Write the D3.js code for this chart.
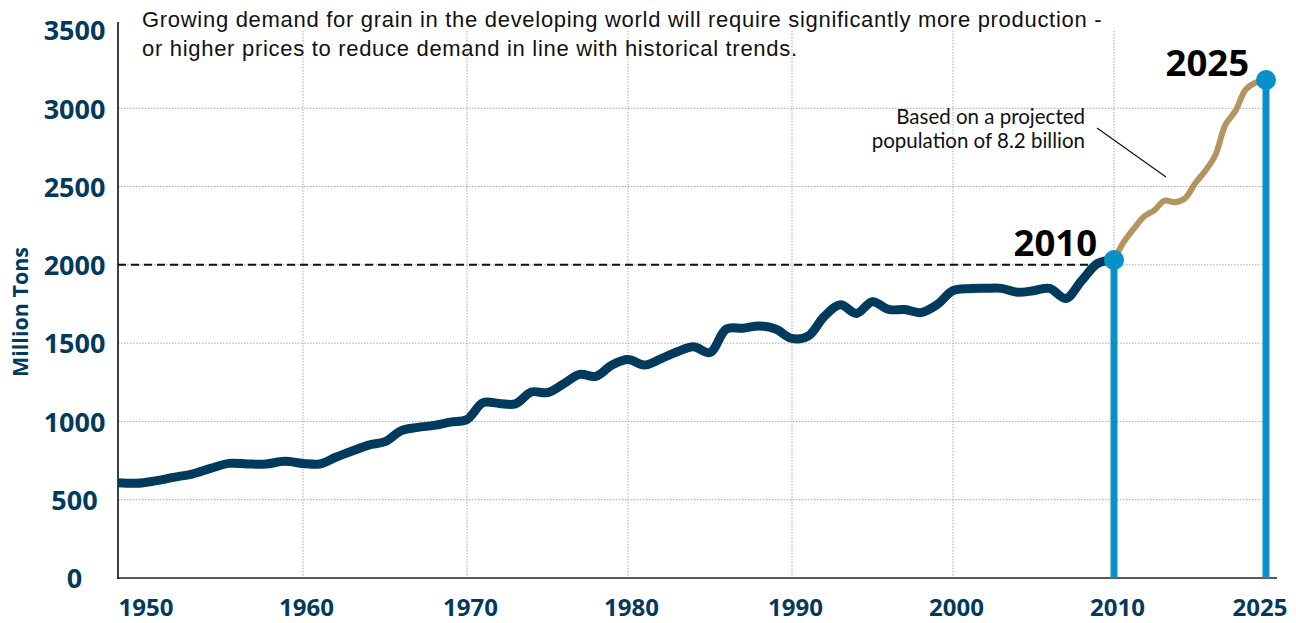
<!DOCTYPE html>
<html>
<head>
<meta charset="utf-8">
<title>World Grain Demand</title>
<script src="https://d3js.org/d3.v7.min.js"></script>
<style>
	body{
		margin:0;
		background-color:#fff;
	}
	.tick text{
		font-family:'Open Sans', 'Noto Sans', sans-serif;
		font-weight:700;
		fill:#033a5c;
	}
</style>
</head>
<body>
<div class="screen"></div>
<script>

//DATA

var histYears = [1950,1951,1952,1953,1954,1955,1956,1957,1958,1959,
	1960,1961,1962,1963,1964,1965,1966,1967,1968,1969,
	1970,1971,1972,1973,1974,1975,1976,1977,1978,1979,
	1980,1981,1982,1983,1984,1985,1986,1987,1988,1989,
	1990,1991,1992,1993,1994,1995,1996,1997,1998,1999,
	2000,2001,2002,2003,2004,2005,2006,2007,2008,2009,2010];
var histTons = [609,605,620,643,664,700,732,728,728,745,
	732,728,771,811,849,871,941,962,975,996,
	1013,1120,1115,1112,1188,1184,1240,1300,1288,1360,
	1395,1360,1400,1445,1477,1440,1590,1595,1610,1590,
	1530,1545,1670,1745,1690,1765,1715,1715,1695,1745,
	1835,1848,1850,1850,1825,1835,1850,1785,1900,2010,2031];

var projYears = [2010,2011,2012,2013,2014,2015,2016,2017,2018,2019,2020,2021,2022,2023,2024,2025];
var projTons = [2031,2150,2235,2310,2350,2410,2400,2425,2520,2600,2700,2895,2985,3120,3165,3181];

var markerYears = [2010,2025];
var markerTons = [2031,3181];

var yTicks = [0,500,1000,1500,2000,2500,3000,3500];
var yGrid = [500,1000,1500,2000,2500,3000];
var xTicks = [1950,1960,1970,1980,1990,2000,2010,2025];
var xGrid = [1960,1970,1980,1990,2000,2010];

var titleLines = ["Growing demand for grain in the developing world will require significantly more production -",
	"or higher prices to reduce demand in line with historical trends."];
var noteLines = ["Based on a projected", "population of 8.2 billion"];

//SETUP

var width = 1296;
var height = 623;
var navy = "#003a5c";
var tan = "#b3955f";
var blue = "#0891c9";

var svg = d3.select(".screen")
	.append("svg")
	.attr("width", width)
	.attr("height", height);

// the drawing squeezes the 2010-2025 stretch, so the x scale is piecewise
var x = d3.scaleLinear()
	.domain(xTicks)
	.range([118,303,467,628,792,953,1114,1266]);

var y = d3.scaleLinear()
	.domain([0,3500])
	.range([578,30]);

var line = d3.line()
	.x(function(d){ return x(d[0]); })
	.y(function(d){ return y(d[1]); })
	.curve(d3.curveCatmullRom.alpha(0.5));

//GRIDLINES

svg.append("g").selectAll("line")
	.data(yGrid)
	.enter()
	.append("line")
	.attr("x1", 118)
	.attr("x2", x(2025))
	.attr("y1", function(d){ return y(d); })
	.attr("y2", function(d){ return y(d); })
	.attr("stroke", "#a8a8a8")
	.attr("stroke-width", 1)
	.attr("stroke-dasharray", "1.5,1.5");

svg.append("g").selectAll("line")
	.data(xGrid)
	.enter()
	.append("line")
	.attr("x1", function(d){ return x(d); })
	.attr("x2", function(d){ return x(d); })
	.attr("y1", 31)
	.attr("y2", 578)
	.attr("stroke", "#a8a8a8")
	.attr("stroke-width", 1)
	.attr("stroke-dasharray", "1.5,1.5");

//AXES

var yAxis = svg.append("g")
	.attr("transform", "translate(118,0)")
	.call(d3.axisLeft(y).tickValues(yTicks).tickSize(0).tickFormat(d3.format("d")));
yAxis.select(".domain").remove();
yAxis.selectAll("text")
	.attr("x", -43.5)
	.attr("text-anchor", "middle")
	.attr("dy", "0.36em")
	.style("font-size", "27px");

var xAxis = svg.append("g")
	.attr("transform", "translate(0,578)")
	.call(d3.axisBottom(x).tickValues(xTicks).tickSize(0).tickFormat(d3.format("d")));
xAxis.select(".domain").remove();
xAxis.selectAll("text")
	.attr("y", 38)
	.attr("dy", 0)
	.attr("text-anchor", function(d){ return d == 1950 ? "start" : (d == 2025 ? "end" : "middle"); })
	.attr("x", function(d){ return d == 1950 ? 0 : (d == 2025 ? 21 : 3); })
	.style("font-size", "24px");

svg.append("line")
	.attr("x1", 118).attr("x2", 1277)
	.attr("y1", 578).attr("y2", 578)
	.attr("stroke", "#5a5a5a")
	.attr("stroke-width", 2);

svg.append("line")
	.attr("x1", 118).attr("x2", 118)
	.attr("y1", 22).attr("y2", 579)
	.attr("stroke", "#000")
	.attr("stroke-width", 1.5);

svg.append("text")
	.attr("transform", "translate(28," + 312 + ") rotate(-90)")
	.attr("text-anchor", "middle")
	.style("font-family", "'Open Sans', 'Noto Sans', sans-serif")
	.style("font-weight", 700)
	.style("font-size", "21.5px")
	.attr("fill", navy)
	.text("Million Tons");

//2000 REFERENCE LINE

svg.append("line")
	.attr("x1", 118)
	.attr("x2", x(2010) - 12)
	.attr("y1", y(2000))
	.attr("y2", y(2000))
	.attr("stroke", "#111")
	.attr("stroke-width", 2)
	.attr("stroke-dasharray", "8,5");

//LINES

svg.append("path")
	.datum(d3.zip(histYears, histTons))
	.attr("fill", "none")
	.attr("stroke", navy)
	.attr("stroke-width", 9)
	.attr("stroke-linejoin", "round")
	.attr("d", line);

svg.append("path")
	.datum(d3.zip(projYears, projTons))
	.attr("fill", "none")
	.attr("stroke", tan)
	.attr("stroke-width", 6)
	.attr("stroke-linejoin", "round")
	.attr("d", line);

//MARKERS

var markers = d3.zip(markerYears, markerTons);

svg.append("g").selectAll("line")
	.data(markers)
	.enter()
	.append("line")
	.attr("x1", function(d){ return x(d[0]); })
	.attr("x2", function(d){ return x(d[0]); })
	.attr("y1", function(d){ return y(d[1]); })
	.attr("y2", 578)
	.attr("stroke", blue)
	.attr("stroke-width", 7);

svg.append("g").selectAll("circle")
	.data(markers)
	.enter()
	.append("circle")
	.attr("cx", function(d){ return x(d[0]); })
	.attr("cy", function(d){ return y(d[1]); })
	.attr("r", 10)
	.attr("fill", blue);

svg.append("g").selectAll("text")
	.data(markers)
	.enter()
	.append("text")
	.attr("x", function(d){ return x(d[0]) - 17; })
	.attr("y", function(d){ return y(d[1]) - 4; })
	.attr("text-anchor", "end")
	.style("font-family", "'Open Sans', 'Noto Sans', sans-serif")
	.style("font-weight", 700)
	.style("font-size", "36.5px")
	.attr("fill", "#000")
	.text(function(d){ return d[0]; });

//TEXT

svg.append("g").selectAll("text")
	.data(titleLines)
	.enter()
	.append("text")
	.attr("x", 142)
	.attr("y", function(d,i){ return 27 + i*28.5; })
	.style("font-family", "'Liberation Sans', Arial, sans-serif")
	.style("font-size", "22px")
	.style("letter-spacing", "0.7px")
	.attr("fill", "#111")
	.text(function(d){ return d; });

svg.append("g").selectAll("text")
	.data(noteLines)
	.enter()
	.append("text")
	.attr("x", 1085)
	.attr("y", function(d,i){ return 123.5 + i*24.6; })
	.attr("text-anchor", "end")
	.style("font-family", "Lato, 'Open Sans', sans-serif")
	.style("font-size", "20.5px")
	.attr("fill", "#111")
	.text(function(d){ return d; });

svg.append("line")
	.attr("x1", 1097).attr("y1", 128)
	.attr("x2", 1166).attr("y2", 177)
	.attr("stroke", "#111")
	.attr("stroke-width", 1.2);

</script>
</body>
</html>
